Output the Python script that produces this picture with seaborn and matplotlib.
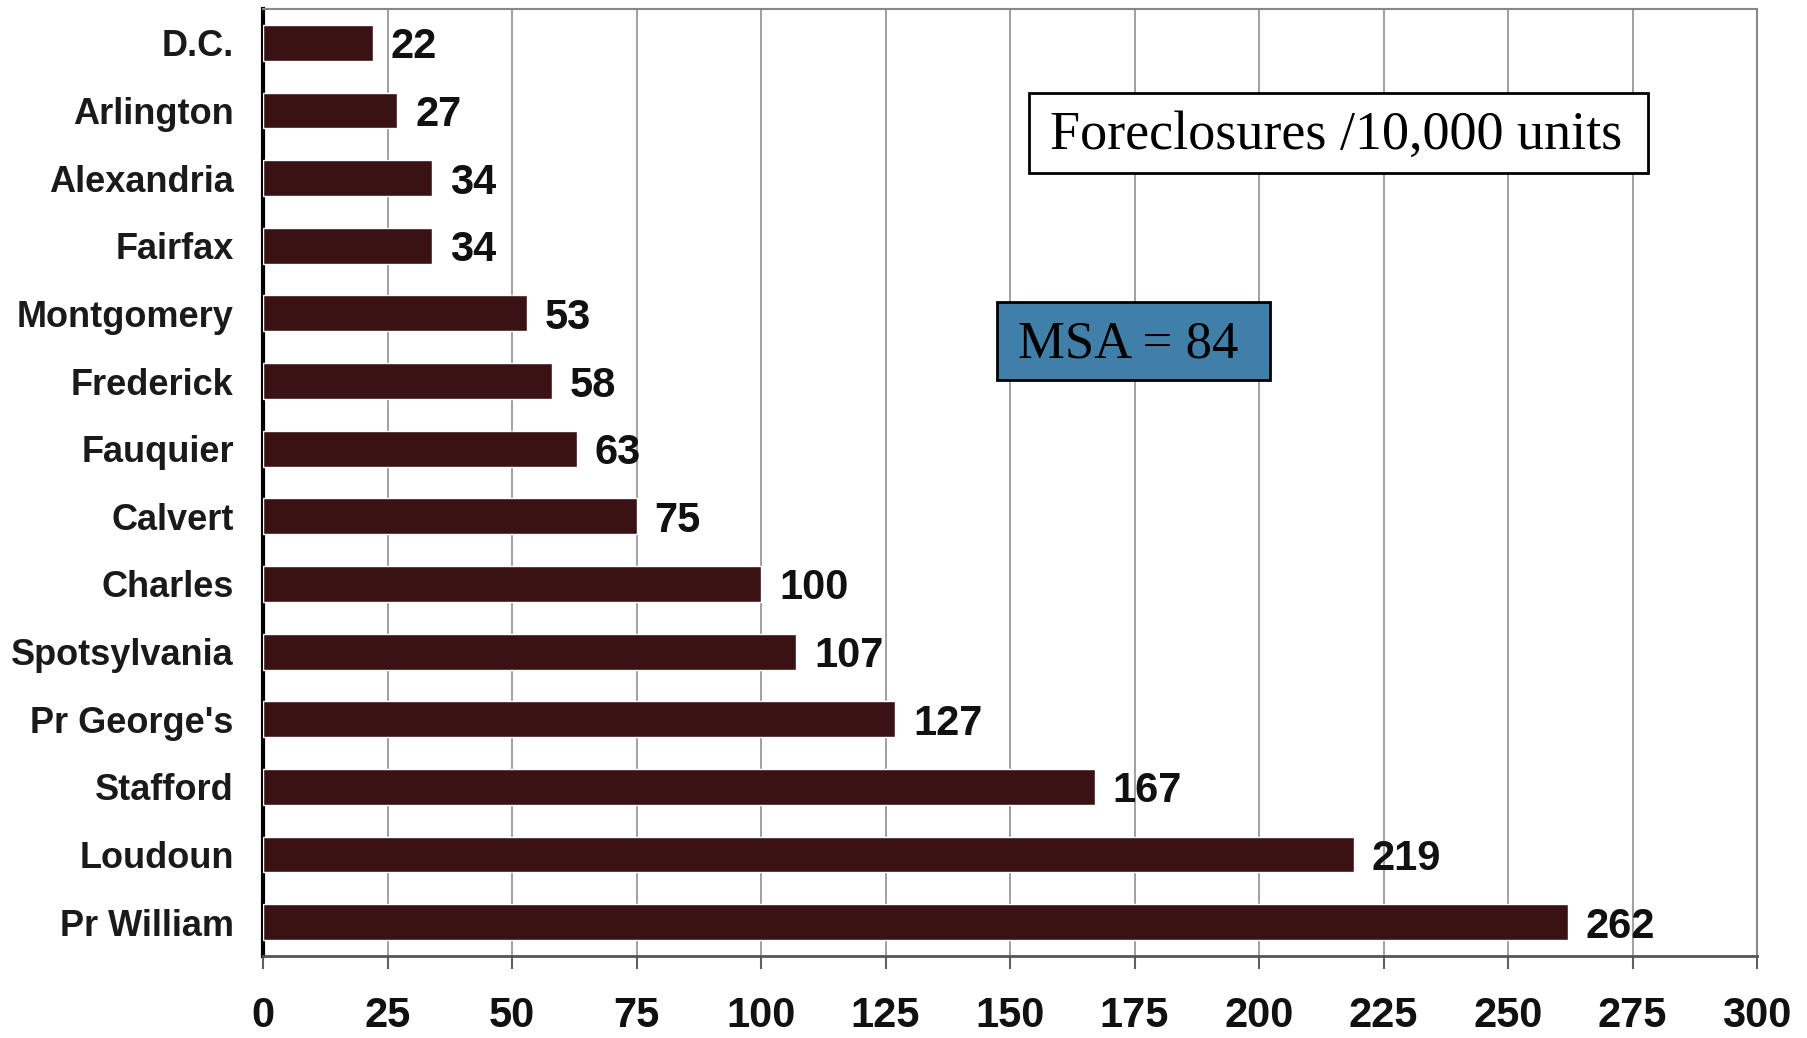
import matplotlib
matplotlib.use("Agg")
import matplotlib.pyplot as plt
import matplotlib.font_manager as fm
from matplotlib.patches import Rectangle
import numpy as np
import pandas as pd
import seaborn as sns

counties = ["D.C.", "Arlington", "Alexandria", "Fairfax", "Montgomery", "Frederick",
            "Fauquier", "Calvert", "Charles", "Spotsylvania", "Pr George's",
            "Stafford", "Loudoun", "Pr William"]
foreclosures = [22, 27, 34, 34, 53, 58, 63, 75, 100, 107, 127, 167, 219, 262]
xticks = list(range(0, 301, 25))

box_title = "Foreclosures /10,000 units"
msa_label = "MSA = 84"

bar_color = "#3a1214"
msa_color = "#4080a8"

sns.set_style("white")
names = {f.name for f in fm.fontManager.ttflist}
narrow = "Liberation Sans Narrow" if "Liberation Sans Narrow" in names else "Liberation Sans"
num_size = 35 if narrow == "Liberation Sans Narrow" else 30
plt.rcParams["font.family"] = ["Liberation Sans", "DejaVu Sans"]

df = pd.DataFrame({"county": counties, "value": foreclosures})

fig = plt.figure(figsize=(18.07, 10.38), dpi=100)
ax = fig.add_axes([263 / 1807, 1 - 956 / 1038, (1757 - 263) / 1807, (956 - 9) / 1038])

sns.barplot(data=df, x="value", y="county", orient="h", color=bar_color,
            width=0.53, saturation=1, ax=ax, zorder=3)

labels = ax.bar_label(ax.containers[0], padding=13, fontsize=num_size, fontweight="bold",
                      family=[narrow, "DejaVu Sans"], color="#111111")
for t in labels:
    t.set_va("center_baseline")

ax.set_xlim(0, 300)
ax.set_xticks(xticks)
ax.set_ylim(len(counties) - 0.5, -0.5)
ax.set_xlabel("")
ax.set_ylabel("")
ax.xaxis.grid(True, color="#a0a0a0", linewidth=1.4, zorder=0)
ax.yaxis.grid(False)
ax.set_axisbelow(True)

for lab in ax.get_xticklabels():
    lab.set_family([narrow, "DejaVu Sans"])
    lab.set_fontsize(num_size)
    lab.set_fontweight("bold")
    lab.set_color("#111111")
for lab in ax.get_yticklabels():
    lab.set_fontsize(26)
    lab.set_fontweight("bold")
    lab.set_color("#1a1a1a")

ax.tick_params(axis="x", bottom=True, length=9, width=1.5, color="#606060", pad=20)
ax.tick_params(axis="y", left=False, length=0, pad=21)

ax.spines["left"].set_color("black")
ax.spines["left"].set_linewidth(3)
ax.spines["bottom"].set_color("#555555")
ax.spines["bottom"].set_linewidth(2)
for s in ["top", "right"]:
    ax.spines[s].set_color("#888888")
    ax.spines[s].set_linewidth(1.5)

# text boxes (figure coordinates)
fig.patches.append(Rectangle((1029 / 1807, 1 - 173 / 1038), (1648 - 1029) / 1807, 80 / 1038,
                             transform=fig.transFigure, facecolor="white",
                             edgecolor="black", linewidth=2, zorder=5))
fig.text(1336 / 1807, 1 - 136 / 1038, box_title, ha="center", va="center",
         fontsize=39, family=["Liberation Serif", "DejaVu Serif"], color="black", zorder=6)

fig.patches.append(Rectangle((997 / 1807, 1 - 380 / 1038), (1270 - 997) / 1807, 78 / 1038,
                             transform=fig.transFigure, facecolor=msa_color,
                             edgecolor="black", linewidth=2, zorder=5))
fig.text(1018 / 1807, 1 - 345 / 1038, msa_label, ha="left", va="center",
         fontsize=38, family=["Liberation Serif", "DejaVu Serif"], color="black", zorder=6)

fig.savefig("out.png", dpi=100, facecolor="white")
